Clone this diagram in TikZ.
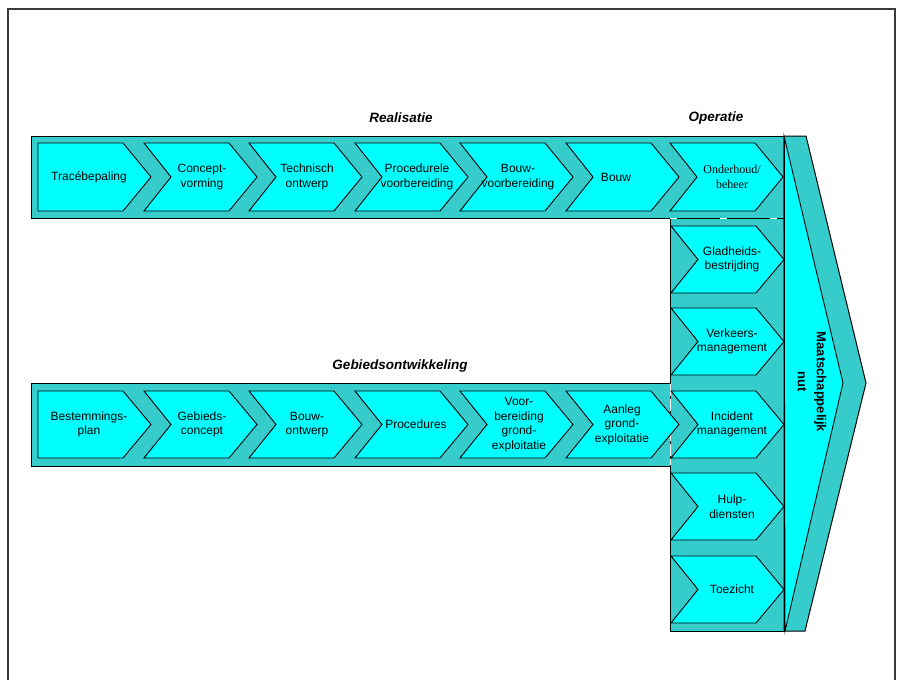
\documentclass[tikz,border=0pt]{standalone}
\usepackage{fontspec}
\setmainfont{Liberation Sans}
\newfontfamily\serifface{Liberation Serif}
\definecolor{bandteal}{RGB}{54,204,204}
\definecolor{chevcyan}{RGB}{0,255,255}
\definecolor{framegray}{RGB}{60,60,60}

% chevron: name, left x, top y, height, notch (0/1), text x-offset, text
\newcommand\chevbox[7]{%
  \def\chx{#2}\def\chy{#3}\def\chh{#4}%
  \draw[chevshape] (\chx,\chy) -- ++(85,0) -- ++(28,\chh/2) -- ++(-28,\chh/2)
     -- ++(-85,0) -- ++(#5*27,-\chh/2) -- cycle;
  \node[chevtext] (#1) at (\chx+#6,\chy+\chh/2) {#7};%
}

\begin{document}
\begin{tikzpicture}[x=1pt,y=-1pt,
  bandshape/.style={draw=black,fill=bandteal,line width=1pt},
  chevshape/.style={draw=black,fill=chevcyan,line width=0.9pt,line join=miter},
  chevtext/.style={align=center,font=\fontsize{12}{14.6}\selectfont,inner sep=0pt},
  phaselabel/.style={font=\fontsize{13.5}{16}\selectfont\bfseries\itshape,inner sep=0pt},
  seam/.style={draw=white,line width=1pt}]
\useasboundingbox (0,0) rectangle (902,680);

% page frame
\draw[framegray,line width=1.6pt] (8,680) -- (8,9) -- (895,9) -- (895,680);

% bands
\draw[bandshape] (31,136) rectangle (784,218);
\draw[bandshape] (670,218) rectangle (784,631);
\draw[bandshape] (31,383) rectangle (670,466);

% seams where the bands meet
\draw[seam,dash pattern=on 7pt off 43pt] (670,218) -- (784,218);
\draw[seam,dash pattern=on 12pt off 3pt] (670,384) -- (670,465);

% closing arrow
\draw[bandshape,line join=miter] (784,136) -- (806,136) -- (866,383) -- (805,631) -- (784,631) -- cycle;
\draw[chevshape] (784,136) -- (843,383) -- (785,631) -- cycle;
\draw[line width=1pt] (784,136) -- (784,631);
\node[rotate=-90,align=center,font=\fontsize{13}{19}\selectfont\bfseries,inner sep=0pt] (nut) at (812,382) {Maatschappelijk\\nut};

% Realisatie row
\chevbox{r1}{38}{143}{68}{0}{51}{Tracébepaling}
\chevbox{r2}{144}{143}{68}{1}{58}{Concept-\\vorming}
\chevbox{r3}{249}{143}{68}{1}{58}{Technisch\\ontwerp}
\chevbox{r4}{355}{143}{68}{1}{62}{Procedurele\\voorbereiding}
\chevbox{r5}{460}{143}{68}{1}{58}{Bouw-\\voorbereiding}
\chevbox{r6}{566}{143}{68}{1}{50}{Bouw}
\chevbox{r7}{670}{143}{68}{1}{62}{\serifface Onderhoud/\\\serifface beheer}

% Gebiedsontwikkeling row
\chevbox{g1}{38}{391}{67}{0}{51}{Bestemmings-\\plan}
\chevbox{g2}{144}{391}{67}{1}{58}{Gebieds-\\concept}
\chevbox{g3}{249}{391}{67}{1}{58}{Bouw-\\ontwerp}
\chevbox{g4}{355}{391}{67}{1}{61}{Procedures}
\chevbox{g5}{460}{391}{67}{1}{59}{Voor-\\bereiding\\grond-\\exploitatie}
\chevbox{g6}{566}{391}{67}{1}{56}{Aanleg\\grond-\\exploitatie}

% Operatie column
\chevbox{o1}{671}{226}{67}{1}{61}{Gladheids-\\bestrijding}
\chevbox{o2}{671}{308}{67}{1}{61}{Verkeers-\\management}
\chevbox{o3}{671}{391}{67}{1}{61}{Incident\\management}
\chevbox{o4}{671}{473}{67}{1}{61}{Hulp-\\diensten}
\chevbox{o5}{671}{556}{67}{1}{61}{Toezicht}

% phase labels
\node[phaselabel] (lreal) at (401,118) {Realisatie};
\node[phaselabel] (loper) at (716,118) {Operatie};
\node[phaselabel] (lgebied) at (400,366) {Gebiedsontwikkeling};
\end{tikzpicture}
\end{document}
